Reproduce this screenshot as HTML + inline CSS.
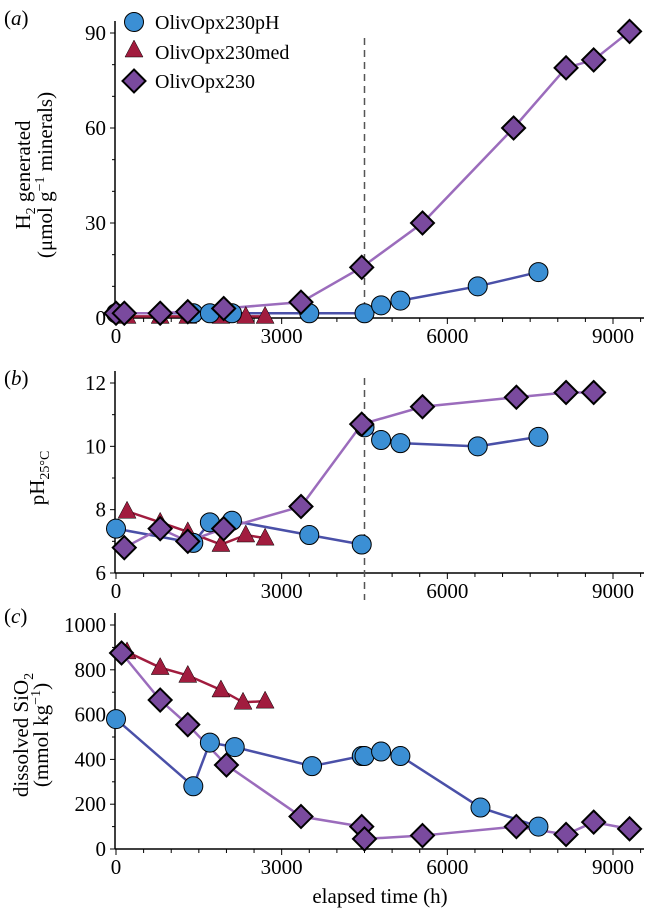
<!DOCTYPE html>
<html><head><meta charset="utf-8"><style>
body{margin:0;background:#fff;}
svg{display:block;font-family:"Liberation Serif",serif;}
</style></head><body>
<svg id="c" width="650" height="912"></svg>
<script>
// ---- data ----
const aDiaT=[0,150,800,1300,1950,3350,4450,5550,7200,8150,8650,9300];
const aDiaV=[1.5,1.5,1.5,2,3,5,16,30,60,79,81.5,90.5];
const aCirT=[0,1400,1700,2100,3500,4500,4800,5150,6550,7650];
const aCirV=[1.5,1.5,1.5,1.5,1.5,1.5,4,5.5,10,14.5];
const aTriT=[200,800,1300,1900,2350,2700];
const aTriV=[0.5,0.5,0.5,0.5,0.5,0.5];
const bDiaT=[150,800,1300,1950,3350,4450,5550,7250,8150,8650];
const bDiaV=[6.8,7.4,7.0,7.4,8.1,10.7,11.25,11.55,11.7,11.7];
const bCirT1=[0,1400,1700,2100,3500,4450];
const bCirV1=[7.4,6.95,7.6,7.65,7.2,6.9];
const bCirT2=[4500,4800,5150,6550,7650];
const bCirV2=[10.6,10.2,10.1,10.0,10.3];
const bTriT=[200,800,1300,1900,2350,2700];
const bTriV=[7.95,7.6,7.3,6.9,7.2,7.1];
const cTriT=[200,800,1300,1900,2300,2700];
const cTriV=[880,810,775,710,655,660];
const cDiaT=[100,800,1300,2000,3350,4450,4500,5550,7250,8150,8650,9300];
const cDiaV=[875,665,555,375,145,100,45,60,100,65,120,90];
const cCirT=[0,1400,1700,2150,3550,4450,4500,4800,5150,6600,7650];
const cCirV=[580,280,475,455,370,415,415,435,415,185,100];
const xTicks=[0,3000,6000,9000];

const S=document.getElementById('c');const NS='http://www.w3.org/2000/svg';
function el(t,a,p){const e=document.createElementNS(NS,t);for(const k in a)e.setAttribute(k,a[k]);(p||S).appendChild(e);return e;}
const X=t=>116+t*(497/9000);
const BLUE='#3b8fd4',BLUEL='#4a50a8',PUR='#7a4a9e',PURL='#9b6cbc',RED='#a11c3e';

function axes(y0,yTop,ymin,ymax,ticks,minor,name){
  const Y=v=>y0-(v-ymin)/(ymax-ymin)*(y0-yTop);
  const g=el('g',{});
  
  
  el('line',{x1:115,y1:Y(ymin),x2:115,y2:yTop-12,stroke:'#000','stroke-width':1.5},g);
  el('line',{x1:115,y1:y0,x2:644,y2:y0,stroke:'#000','stroke-width':1.5},g);
  ticks.forEach(v=>{el('line',{x1:110,x2:115,y1:Y(v),y2:Y(v),stroke:'#000'},g);
    const t=el('text',{x:106,y:Y(v)+7,'text-anchor':'end','font-size':21},g);t.textContent=v;});
  minor.forEach(v=>el('line',{x1:112,x2:115,y1:Y(v),y2:Y(v),stroke:'#000'},g));
  for(let t=0;t<=9500;t+=500){el('line',{x1:X(t),x2:X(t),y1:y0,y2:y0+(t%3000==0?6:4),stroke:'#000'},g);}
  xTicks.forEach(t=>{const s=el('text',{x:X(t),y:y0+25,'text-anchor':'middle','font-size':21},g);s.textContent=t;});
  return Y;
}
function line(T,V,Y,col,name){const p=el('polyline',{points:T.map((t,i)=>X(t)+','+Y(V[i])).join(' '),fill:'none',stroke:col,'stroke-width':2.5});
  }
function circ(x,y){return el('circle',{cx:x,cy:y,r:9.5,fill:BLUE,stroke:'#000','stroke-width':1});}
function dia(x,y){return el('polygon',{points:`${x},${y-11.5} ${x+11.5},${y} ${x},${y+11.5} ${x-11.5},${y}`,fill:PUR,stroke:'#000','stroke-width':2});}
function tri(x,y){return el('polygon',{points:`${x},${y-10} ${x+9},${y+7} ${x-9},${y+7}`,fill:RED,stroke:'#000','stroke-width':0.5});}
function marks(T,V,Y,f,name){T.forEach((t,i)=>{const m=f(X(t),Y(V[i]));});}
function txt(x,y,s,size,attrs){const t=el('text',Object.assign({x:x,y:y,'font-size':size},attrs||{}));t.innerHTML=s;return t;}

// Panel a
const Ya=axes(318,33,0,90,[0,30,60,90],[10,20,40,50,70,80],'panel-a');
el('line',{x1:X(4500),x2:X(4500),y1:38,y2:318,stroke:'#555','stroke-width':1.5,'stroke-dasharray':'7,5'});
line(aTriT,aTriV,Ya,RED,'a-med-line');line(aCirT,aCirV,Ya,BLUEL,'a-ph-line');line(aDiaT,aDiaV,Ya,PURL,'a-opx-line');
marks(aTriT,aTriV,Ya,tri,'a-med-point');marks(aCirT,aCirV,Ya,circ,'a-ph-point');marks(aDiaT,aDiaV,Ya,dia,'a-opx-point');
txt(4,25,'(<tspan font-style="italic">a</tspan>)',21);
const ya=txt(0,0,'H<tspan font-size="14" dy="5">2</tspan><tspan dy="-5"> generated</tspan>',21,{transform:'translate(30,175) rotate(-90)','text-anchor':'middle'});

txt(0,0,'(μmol g<tspan font-size="14" dy="-8">−1</tspan><tspan dy="8"> minerals)</tspan>',21,{transform:'translate(52,175) rotate(-90)','text-anchor':'middle'});
// legend
[[circ,'OlivOpx230pH',22],[tri,'OlivOpx230med',52],[dia,'OlivOpx230',81]].forEach(([f,n,y])=>{f(134,y+(f===tri?-2:0));const t=txt(155,y+7,n,20);
  });

// Panel b
const Yb=axes(573,383,6,12,[6,8,10,12],[7,9,11],'panel-b');
el('line',{x1:X(4500),x2:X(4500),y1:378,y2:600,stroke:'#555','stroke-width':1.5,'stroke-dasharray':'7,5'});
line(bTriT,bTriV,Yb,RED,'b-med-line');line(bCirT1,bCirV1,Yb,BLUEL,'b-ph-line');line(bCirT2,bCirV2,Yb,BLUEL,'b-ph-line-2');line(bDiaT,bDiaV,Yb,PURL,'b-opx-line');
marks(bTriT,bTriV,Yb,tri,'b-med-point');marks(bCirT1,bCirV1,Yb,circ,'b-ph-point');marks(bCirT2,bCirV2,Yb,circ,'b-ph-point');marks(bDiaT,bDiaV,Yb,dia,'b-opx-point');
txt(4,385,'(<tspan font-style="italic">b</tspan>)',21);
txt(0,0,'pH<tspan font-size="14" dy="5">25°C</tspan>',21,{transform:'translate(44,478) rotate(-90)','text-anchor':'middle'});

// Panel c
const Yc=axes(849,625,0,1000,[0,200,400,600,800,1000],[100,300,500,700,900],'panel-c');
line(cTriT,cTriV,Yc,RED,'c-med-line');line(cCirT,cCirV,Yc,BLUEL,'c-ph-line');line(cDiaT,cDiaV,Yc,PURL,'c-opx-line');
marks(cTriT,cTriV,Yc,tri,'c-med-point');marks(cCirT,cCirV,Yc,circ,'c-ph-point');marks(cDiaT,cDiaV,Yc,dia,'c-opx-point');
txt(4,623,'(<tspan font-style="italic">c</tspan>)',21);
txt(0,0,'dissolved SiO<tspan font-size="14" dy="5">2</tspan>',21,{transform:'translate(28,735) rotate(-90)','text-anchor':'middle'});
txt(0,0,'(mmol kg<tspan font-size="14" dy="-8">−1</tspan><tspan dy="8">)</tspan>',21,{transform:'translate(48,735) rotate(-90)','text-anchor':'middle'});
txt(380,903,'elapsed time (h)',21,{'text-anchor':'middle'});
</script>
</body></html>
